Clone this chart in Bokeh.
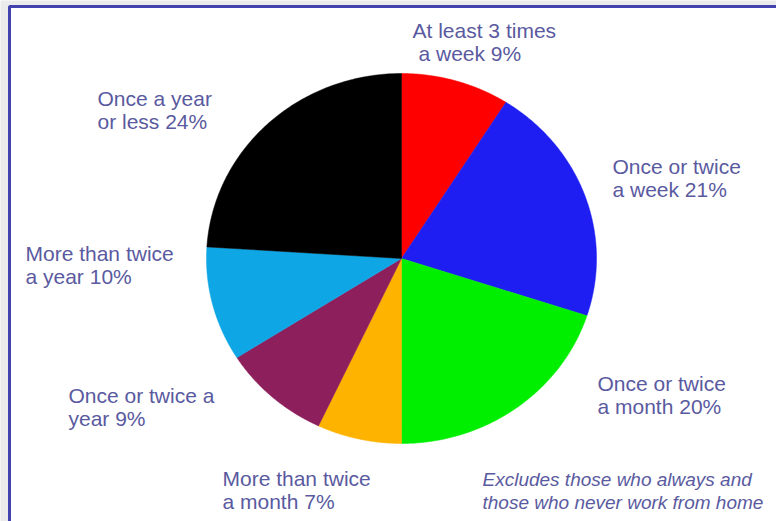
import numpy as np
from bokeh.plotting import figure
from bokeh.models import ColumnDataSource
from bokeh.core.properties import value
from bokeh.embed import file_html
from bokeh.resources import INLINE

# ---- data ----
categories = ["At least 3 times a week", "Once or twice a week", "Once or twice a month",
              "More than twice a month", "Once or twice a year", "More than twice a year",
              "Once a year or less"]
shares = [9, 21, 20, 7, 9, 10, 24]
colors = ["#ff0000", "#1e1ef2", "#00ee00", "#fdb300", "#8c1f5c", "#0fa6e6", "#000000"]
label_line1 = ["At least 3 times", "Once or twice", "Once or twice", "More than twice",
               "Once or twice a", "More than twice", "Once a year"]
label_line2 = [" a week", "a week", "a month", "a month", "year", "a year", "or less"]
note_lines = ["Excludes those who always and", "those who never work from home"]

# ---- layout (pixel-like data space, y up) ----
W, H = 776, 521
cx, cy = 401, 263
rx, ry = 195, 185
label_x = [412, 612, 597, 222, 68, 25, 97]
label_y1 = [30, 166, 383, 478, 395, 253, 98]   # from top
line_gap = 23

p = figure(width=W, height=H, x_range=(0, W), y_range=(0, H),
           output_backend="svg", toolbar_location=None, min_border=0)
p.axis.visible = False
p.grid.visible = False
p.outline_line_color = None
p.background_fill_color = "#ebebeb"
p.border_fill_color = "#ebebeb"

# white panel with blue border
p.quad(left=9, right=W + 20, top=H - 6, bottom=-20,
       fill_color="white", line_color="#4343b0", line_width=3)

# pie slices (clockwise from 12 o'clock), drawn as elliptical wedges
total = float(sum(shares))
ends = np.cumsum(shares) / total * 2 * np.pi
starts = np.concatenate([[0.0], ends[:-1]])
xs, ys = [], []
for a0, a1 in zip(starts, ends):
    t = np.linspace(a0, a1, 120)
    xs.append(np.concatenate([[cx], cx + rx * np.sin(t)]))
    ys.append(np.concatenate([[cy], cy + ry * np.cos(t)]))
src = ColumnDataSource(dict(xs=xs, ys=ys, color=colors, cat=categories))
p.patches("xs", "ys", source=src, fill_color="color", line_color="color", line_width=0.5)

# labels
txt_color = "#5a5aa0"
l1 = ColumnDataSource(dict(x=label_x, y=[H - v for v in label_y1], t=label_line1))
l2 = ColumnDataSource(dict(x=[x + (6 if i == 0 else 0) for i, x in enumerate(label_x)],
                           y=[H - v - line_gap for v in label_y1],
                           t=[f"{a} {s}%" for a, s in zip(label_line2, shares)]))
for s in (l1, l2):
    p.text(x="x", y="y", text="t", source=s, text_font=value("Liberation Sans"),
           text_font_size="21px", text_color=txt_color, text_baseline="middle",
           text_align="left")

note = ColumnDataSource(dict(x=[482, 482], y=[H - 479, H - 502], t=note_lines))
p.text(x="x", y="y", text="t", source=note, text_font=value("Liberation Sans"),
       text_font_size="19px", text_font_style="italic", text_color=txt_color,
       text_baseline="middle", text_align="left")

open("out.html", "w").write(file_html(p, INLINE))
